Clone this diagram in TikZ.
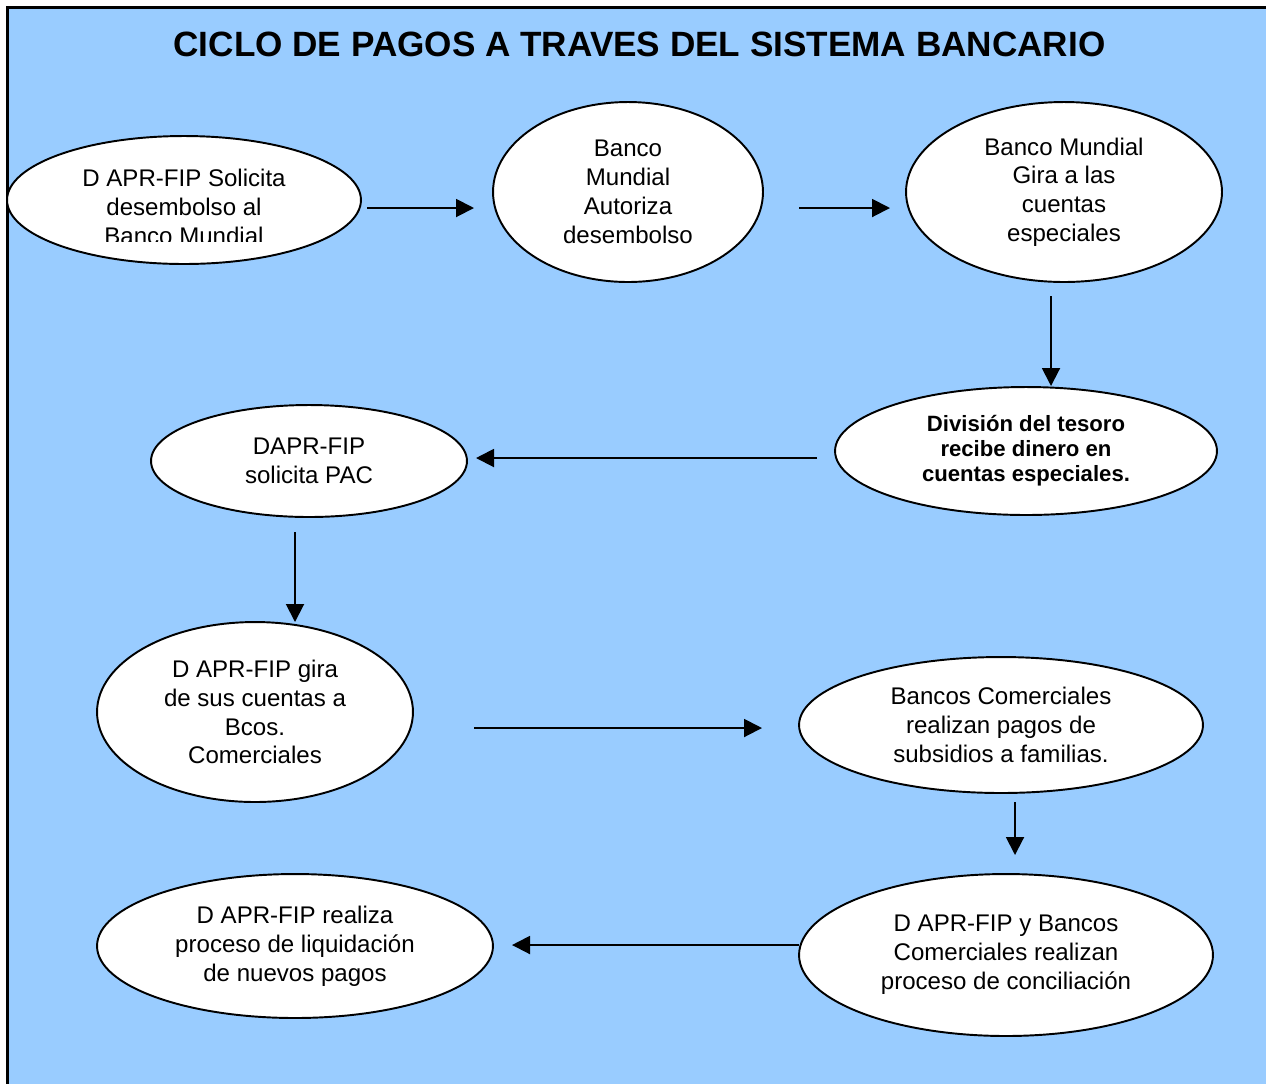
\documentclass[tikz,border=0pt]{standalone}
\usepackage{fontspec}
\setmainfont{Liberation Sans}
\usepackage{xcolor}
\usetikzlibrary{arrows.meta,shapes.geometric}
\definecolor{sky}{HTML}{99CCFF}

\begin{document}
\begin{tikzpicture}
    [x=0.02cm,y=-0.02cm,
    font=\fontsize{13.7}{16.4}\selectfont,
    bubble/.style={shape=ellipse,draw=black,fill=white,line width=1.1pt,inner sep=0pt,align=center},
    bold/.style={font=\fontsize{12.6}{14.2}\selectfont\bfseries},
    arc/.style={-{Triangle[length=0.36cm,width=0.36cm]},line width=1.1pt}]

    \useasboundingbox (0,0) rectangle (1266,1083);
    \fill [sky] (7.5,7.5) rectangle (1300,1120);
    \draw [line width=1.4pt] (7.5,1120) -- (7.5,7.5) -- (1300,7.5);

    \node (title) [anchor=base,font=\fontsize{20}{24}\selectfont\bfseries] at (639.5,56)
        {CICLO DE PAGOS A TRAVES DEL SISTEMA BANCARIO};

    \node (1) [bubble,minimum width=7.08cm,minimum height=2.56cm] at (184,200) {};
    \begin{scope}
        \clip (0,140) rectangle (400,241);
        \node (1t) [align=center] at (184,207) {D APR-FIP Solicita\\desembolso al\\Banco Mundial};
    \end{scope}
    \node (2) [bubble,minimum width=5.40cm,minimum height=3.60cm] at (628,192) {Banco\\Mundial\\Autoriza\\desembolso};
    \node (3) [bubble,minimum width=6.32cm,minimum height=3.60cm] at (1064,192) {Banco Mundial\\Gira a las\\cuentas\\especiales};
    \node (4) [bubble,bold,minimum width=7.64cm,minimum height=2.56cm] at (1026,451) {División del tesoro\\recibe dinero en\\cuentas especiales.};
    \node (5) [bubble,minimum width=6.32cm,minimum height=2.24cm] at (309,461) {DAPR-FIP\\solicita PAC};
    \node (6) [bubble,minimum width=6.32cm,minimum height=3.60cm] at (255,712) {D APR-FIP gira\\de sus cuentas a\\Bcos.\\Comerciales};
    \node (7) [bubble,minimum width=8.08cm,minimum height=2.72cm] at (1001,725) {Bancos Comerciales\\realizan pagos de\\subsidios a familias.};
    \node (8) [bubble,minimum width=8.28cm,minimum height=3.24cm] at (1006,955) {D APR-FIP y Bancos\\Comerciales realizan\\proceso de conciliación};
    \node (9) [bubble,minimum width=7.92cm,minimum height=2.88cm] at (295,946) {D APR-FIP realiza\\proceso de liquidación\\de nuevos pagos};

    % arrow ends
    \coordinate (1a) at (367,208);
    \coordinate (2a) at (474,208);
    \coordinate (2b) at (799,208);
    \coordinate (3a) at (890,208);
    \coordinate (3b) at (1051,296);
    \coordinate (4a) at (1051,386);
    \coordinate (4b) at (817,458);
    \coordinate (5a) at (476,458);
    \coordinate (5b) at (295,532);
    \coordinate (6a) at (295,622);
    \coordinate (6b) at (474,728);
    \coordinate (7a) at (762,728);
    \coordinate (7b) at (1015,802);
    \coordinate (8a) at (1015,855);
    \coordinate (8b) at (799,945);
    \coordinate (9a) at (512,945);

    \draw [arc] (1a) to (2a);
    \draw [arc] (2b) to (3a);
    \draw [arc] (3b) to (4a);
    \draw [arc] (4b) to (5a);
    \draw [arc] (5b) to (6a);
    \draw [arc] (6b) to (7a);
    \draw [arc] (7b) to (8a);
    \draw [arc] (8b) to (9a);

\end{tikzpicture}
\end{document}
